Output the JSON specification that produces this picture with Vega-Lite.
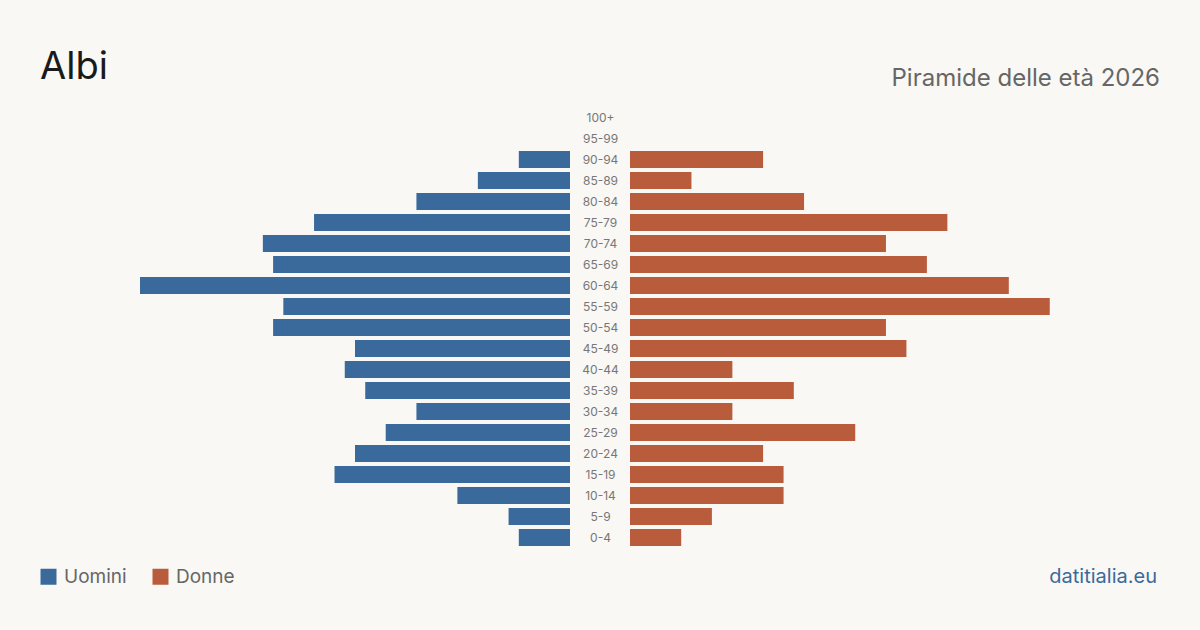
{
  "$schema": "https://vega.github.io/schema/vega-lite/v6.json",
  "background": "#f9f8f4",
  "padding": {"left": 39, "top": 49, "right": 40, "bottom": 45},
  "bounds": "flush",
  "spacing": 60,
  "title": {
    "text": "datitialia.eu",
    "orient": "bottom",
    "anchor": "end",
    "frame": "group",
    "baseline": "alphabetic",
    "offset": -4,
    "dx": 1017,
    "font": "Inter",
    "fontSize": 20,
    "fontWeight": "normal",
    "color": "#3a6a9c"
  },
  "config": {
    "view": {"stroke": null},
    "font": "Inter"
  },
  "data": {
    "values": [
      {"age": "100+", "sex": "Uomini", "value": 0}, {"age": "100+", "sex": "Donne", "value": 0},
      {"age": "95-99", "sex": "Uomini", "value": 0}, {"age": "95-99", "sex": "Donne", "value": 0},
      {"age": "90-94", "sex": "Uomini", "value": 5}, {"age": "90-94", "sex": "Donne", "value": 13},
      {"age": "85-89", "sex": "Uomini", "value": 9}, {"age": "85-89", "sex": "Donne", "value": 6},
      {"age": "80-84", "sex": "Uomini", "value": 15}, {"age": "80-84", "sex": "Donne", "value": 17},
      {"age": "75-79", "sex": "Uomini", "value": 25}, {"age": "75-79", "sex": "Donne", "value": 31},
      {"age": "70-74", "sex": "Uomini", "value": 30}, {"age": "70-74", "sex": "Donne", "value": 25},
      {"age": "65-69", "sex": "Uomini", "value": 29}, {"age": "65-69", "sex": "Donne", "value": 29},
      {"age": "60-64", "sex": "Uomini", "value": 42}, {"age": "60-64", "sex": "Donne", "value": 37},
      {"age": "55-59", "sex": "Uomini", "value": 28}, {"age": "55-59", "sex": "Donne", "value": 41},
      {"age": "50-54", "sex": "Uomini", "value": 29}, {"age": "50-54", "sex": "Donne", "value": 25},
      {"age": "45-49", "sex": "Uomini", "value": 21}, {"age": "45-49", "sex": "Donne", "value": 27},
      {"age": "40-44", "sex": "Uomini", "value": 22}, {"age": "40-44", "sex": "Donne", "value": 10},
      {"age": "35-39", "sex": "Uomini", "value": 20}, {"age": "35-39", "sex": "Donne", "value": 16},
      {"age": "30-34", "sex": "Uomini", "value": 15}, {"age": "30-34", "sex": "Donne", "value": 10},
      {"age": "25-29", "sex": "Uomini", "value": 18}, {"age": "25-29", "sex": "Donne", "value": 22},
      {"age": "20-24", "sex": "Uomini", "value": 21}, {"age": "20-24", "sex": "Donne", "value": 13},
      {"age": "15-19", "sex": "Uomini", "value": 23}, {"age": "15-19", "sex": "Donne", "value": 15},
      {"age": "10-14", "sex": "Uomini", "value": 11}, {"age": "10-14", "sex": "Donne", "value": 15},
      {"age": "5-9", "sex": "Uomini", "value": 6}, {"age": "5-9", "sex": "Donne", "value": 8},
      {"age": "0-4", "sex": "Uomini", "value": 5}, {"age": "0-4", "sex": "Donne", "value": 5}
    ]
  },
  "hconcat": [
    {
      "title": {
        "text": "Albi",
        "anchor": "start",
        "frame": "group",
        "baseline": "alphabetic",
        "offset": -10,
        "dx": -100,
        "font": "Inter",
        "fontSize": 38,
        "fontWeight": "normal",
        "color": "#1a1a1a"
      },
      "width": 430,
      "height": {"step": 21},
      "transform": [{"filter": "datum.sex === 'Uomini'"}],
      "mark": {"type": "bar"},
      "encoding": {
        "y": {
          "field": "age",
          "type": "ordinal",
          "sort": ["100+", "95-99", "90-94", "85-89", "80-84", "75-79", "70-74", "65-69", "60-64", "55-59", "50-54", "45-49", "40-44", "35-39", "30-34", "25-29", "20-24", "15-19", "10-14", "5-9", "0-4"],
          "scale": {"paddingInner": 0.19, "paddingOuter": 0.095},
          "axis": null
        },
        "x": {
          "field": "value",
          "type": "quantitative",
          "scale": {"domain": [0, 42], "reverse": true, "nice": false},
          "axis": null
        },
        "color": {
          "field": "sex",
          "type": "nominal",
          "scale": {"domain": ["Uomini", "Donne"], "range": ["#3a6a9c", "#b95c3c"]},
          "legend": {
            "orient": "none",
            "legendX": -101,
            "legendY": 460,
            "direction": "horizontal",
            "title": null,
            "symbolType": "square",
            "symbolSize": 256,
            "symbolStrokeWidth": 0,
            "symbolOpacity": 1,
            "labelFont": "Inter",
            "labelFontSize": 19,
            "labelColor": "#666666",
            "labelOffset": 6,
            "columnPadding": 24
          }
        }
      }
    },
    {
      "title": {
        "text": "Piramide delle età 2026",
        "anchor": "end",
        "frame": "group",
        "baseline": "alphabetic",
        "offset": -3,
        "dx": 100,
        "font": "Inter",
        "fontSize": 24,
        "fontWeight": "normal",
        "color": "#666666"
      },
      "width": 430,
      "height": {"step": 21},
      "transform": [{"filter": "datum.sex === 'Donne'"}],
      "mark": {"type": "bar"},
      "encoding": {
        "y": {
          "field": "age",
          "type": "ordinal",
          "sort": ["100+", "95-99", "90-94", "85-89", "80-84", "75-79", "70-74", "65-69", "60-64", "55-59", "50-54", "45-49", "40-44", "35-39", "30-34", "25-29", "20-24", "15-19", "10-14", "5-9", "0-4"],
          "scale": {"paddingInner": 0.19, "paddingOuter": 0.095},
          "axis": {
            "orient": "left",
            "title": null,
            "domain": false,
            "ticks": false,
            "labelAlign": "center",
            "labelBaseline": "middle",
            "labelPadding": 30,
            "labelFont": "Inter",
            "labelFontSize": 12,
            "labelColor": "#777777"
          }
        },
        "x": {
          "field": "value",
          "type": "quantitative",
          "scale": {"domain": [0, 42], "nice": false},
          "axis": null
        },
        "color": {
          "field": "sex",
          "type": "nominal",
          "scale": {"domain": ["Uomini", "Donne"], "range": ["#3a6a9c", "#b95c3c"]}
        }
      }
    }
  ]
}
